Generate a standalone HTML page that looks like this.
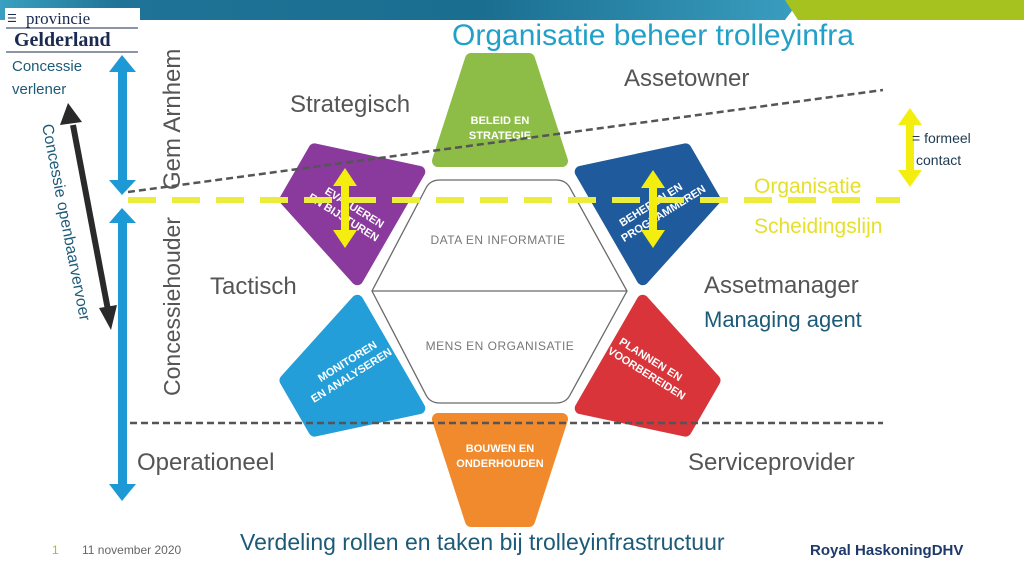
<!DOCTYPE html>
<html><head><meta charset="utf-8"><style>
html,body{margin:0;padding:0;background:#fff}
svg{display:block}
text{font-family:"Liberation Sans","DejaVu Sans",sans-serif}
</style></head><body>
<svg width="1024" height="576" viewBox="0 0 1024 576" xmlns="http://www.w3.org/2000/svg">
<defs>
<linearGradient id="hb" x1="0" x2="1" y1="0" y2="0">
<stop offset="0" stop-color="#3aa0c0"/><stop offset="0.15" stop-color="#1f7396"/><stop offset="0.6" stop-color="#1a6e90"/><stop offset="1" stop-color="#3a9ec0"/></linearGradient>
</defs>
<polygon points="0,0 800,0 785,20 0,20" fill="url(#hb)"/>
<polygon points="785,0 1024,0 1024,20 798,20" fill="#a6c21e"/>
<rect x="5" y="8" width="135" height="45" fill="#fff"/>
<line x1="6" y1="28" x2="138" y2="28" stroke="#1a2a50" stroke-width="1"/>
<line x1="6" y1="52" x2="138" y2="52" stroke="#1a2a50" stroke-width="1"/>
<text x="7" y="22" font-size="11" fill="#1a2a50">☰</text>
<text x="26" y="24" font-size="17" fill="#1a2a50" style="font-family:'Liberation Serif',serif">provincie</text>
<text x="14" y="46" font-size="20" font-weight="bold" fill="#1a2a50" style="font-family:'Liberation Serif',serif">Gelderland</text>
<text x="12" y="71" font-size="15" fill="#1d5a78">Concessie</text>
<text x="12" y="94" font-size="15" fill="#1d5a78">verlener</text>
<text x="653" y="45" font-size="30" fill="#22a0c8" text-anchor="middle">Organisatie beheer trolleyinfra</text>
<g fill="#1d9ad6">
<rect x="118" y="70" width="9" height="112"/>
<polygon points="109,72 122,55 136,72"/>
<polygon points="109,180 122,195 136,180"/>
<rect x="118" y="222" width="9" height="263"/>
<polygon points="109,223 122,208 136,223"/>
<polygon points="109,484 122,501 136,484"/>
</g>
<line x1="73" y1="125" x2="108" y2="310" stroke="#2a2a2a" stroke-width="6"/>
<polygon points="60,125 68,103 82,122" fill="#2a2a2a"/>
<polygon points="99,308 111,330 117,305" fill="#2a2a2a"/>
<text transform="translate(42,125) rotate(79)" font-size="16" fill="#1d5a78">Concessie openbaarvervoer</text>
<text transform="translate(180,190) rotate(-90)" font-size="24" fill="#555">Gem Arnhem</text>
<text transform="translate(180,396) rotate(-90)" font-size="23" fill="#555">Concessiehouder</text>
<path d="M440,180 L556,180 Q566,180 570,188 L627,291 L570,395 Q566,403 556,403 L440,403 Q430,403 426,395 L372,291 L426,188 Q430,180 440,180 Z M372,291 L627,291" fill="#fff" stroke="#6a6a6a" stroke-width="1.3"/>
<text x="498" y="244" font-size="12" fill="#777" text-anchor="middle" letter-spacing="0.5">DATA EN INFORMATIE</text>
<text x="500" y="350" font-size="12" fill="#777" text-anchor="middle" letter-spacing="0.5">MENS EN ORGANISATIE</text>
<g transform="translate(500,290)" stroke-linejoin="round" stroke-width="12">
<polygon points="-29,-231 29,-231 62,-129 -62,-129" fill="#8dbd47" stroke="#8dbd47"/>
<polygon transform="rotate(180)" points="-29,-231 29,-231 62,-129 -62,-129" fill="#f08a2c" stroke="#f08a2c"/>
<polygon transform="rotate(-60)" points="-29,-231 29,-231 62,-129 -62,-129" fill="#8a3a9c" stroke="#8a3a9c"/>
<polygon transform="rotate(60)" points="-29,-231 29,-231 62,-129 -62,-129" fill="#1f5a9c" stroke="#1f5a9c"/>
<polygon transform="rotate(-120)" points="-29,-231 29,-231 62,-129 -62,-129" fill="#239ed8" stroke="#239ed8"/>
<polygon transform="rotate(120)" points="-29,-231 29,-231 62,-129 -62,-129" fill="#d8343a" stroke="#d8343a"/>
</g>
<g fill="#fff" font-size="11" font-weight="bold" text-anchor="middle">
<text x="500" y="124">BELEID EN</text><text x="500" y="139">STRATEGIE</text>
<text x="500" y="452">BOUWEN EN</text><text x="500" y="467">ONDERHOUDEN</text>
<g transform="translate(347,212) rotate(32)"><text x="4" y="-4">EVALUEREN</text><text x="0" y="10">EN BIJSTUREN</text></g>
<g transform="translate(660,208) rotate(-32)"><text x="-6" y="-4">BEHEREN EN</text><text x="0" y="10">PROGRAMMEREN</text></g>
<g transform="translate(348,370) rotate(-32)"><text x="4" y="-4">MONITOREN</text><text x="0" y="10">EN ANALYSEREN</text></g>
<g transform="translate(650,368) rotate(32)"><text x="-4" y="-4">PLANNEN EN</text><text x="0" y="10">VOORBEREIDEN</text></g>
</g>
<line x1="128" y1="192" x2="883" y2="90" stroke="#555" stroke-width="2.5" stroke-dasharray="7,4"/>
<line x1="130" y1="423" x2="883" y2="423" stroke="#555" stroke-width="2.5" stroke-dasharray="7,4"/>
<line x1="128" y1="200" x2="900" y2="200" stroke="#ecec3c" stroke-width="6" stroke-dasharray="28,16"/>
<g fill="#f4ee10">
<rect x="341" y="182" width="8" height="50"/><polygon points="333,186 345,168 357,186"/><polygon points="333,230 345,248 357,230"/>
<rect x="649" y="184" width="8" height="48"/><polygon points="641,188 653,170 665,188"/><polygon points="641,230 653,248 665,230"/>
<rect x="906" y="122" width="8" height="50"/><polygon points="898,125 910,108 922,125"/><polygon points="898,170 910,187 922,170"/>
</g>
<text x="912" y="143" font-size="14" fill="#1d3a50">= formeel</text>
<text x="916" y="165" font-size="14" fill="#1d3a50">contact</text>
<text x="754" y="193" font-size="21" fill="#e6e02a">Organisatie</text>
<text x="754" y="233" font-size="21" fill="#e6e02a">Scheidingslijn</text>
<g fill="#555" font-size="24">
<text x="290" y="112">Strategisch</text>
<text x="210" y="294">Tactisch</text>
<text x="137" y="470">Operationeel</text>
<text x="624" y="86">Assetowner</text>
<text x="704" y="293">Assetmanager</text>
<text x="688" y="470">Serviceprovider</text>
</g>
<text x="704" y="327" font-size="22" fill="#1d5a78">Managing agent</text>
<text x="52" y="554" font-size="12" fill="#a6c21e">1</text>
<text x="82" y="554" font-size="12" fill="#666">11 november 2020</text>
<text x="240" y="550" font-size="23" fill="#1d5a78">Verdeling rollen en taken bij trolleyinfrastructuur</text>
<text x="810" y="555" font-size="15" font-weight="bold" fill="#1d3a6a">Royal HaskoningDHV</text>
</svg>
</body></html>
